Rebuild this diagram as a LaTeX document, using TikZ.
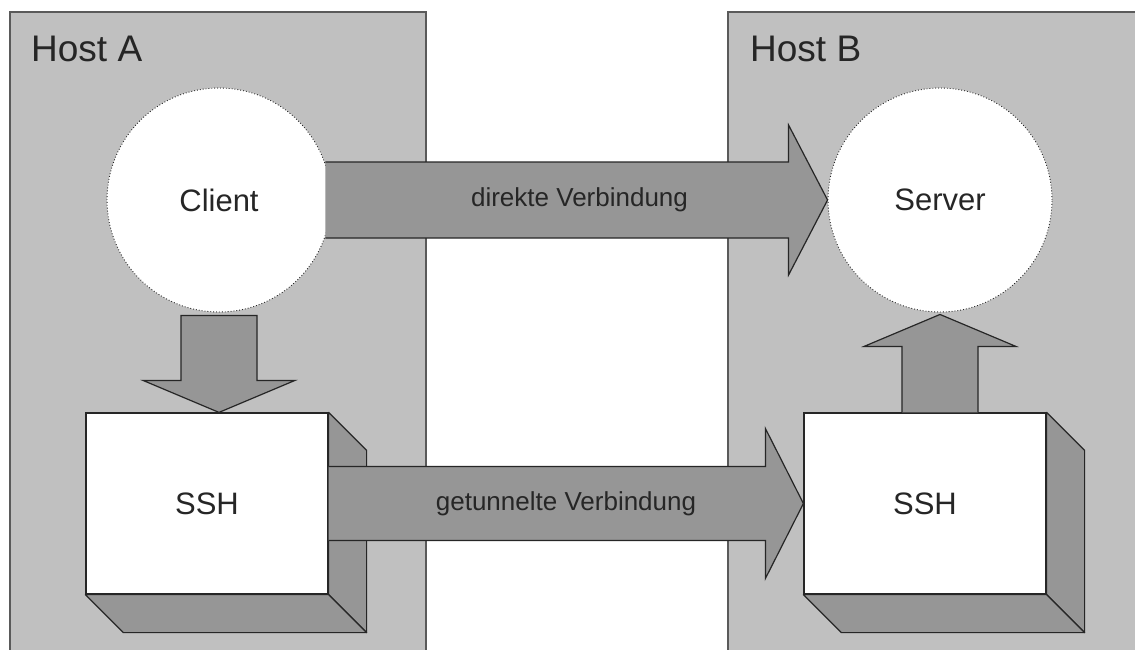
\documentclass[tikz,border=0pt]{standalone}
\usepackage{fontspec}
\setmainfont{Liberation Sans}
\usetikzlibrary{calc}

\definecolor{hostgray}{HTML}{C0C0C0}
\definecolor{arrowgray}{HTML}{969696}
\definecolor{edgegray}{HTML}{5A5A5A}

\tikzset{
  host/.style={fill=hostgray, draw=edgegray, line width=2pt},
  hostlabel/.style={anchor=base west, inner sep=0pt, text=black!85, font=\fontsize{37}{40}\selectfont},
  proc/.style={circle, draw=black!85, dotted, line width=0.9pt, fill=white, minimum size=224pt, inner sep=0pt, text=black!85, font=\fontsize{31}{34}\selectfont},
  sshbox/.style={rectangle, draw=black!85, line width=1.2pt, fill=white, minimum width=242pt, minimum height=181pt, inner sep=0pt, text=black!85, font=\fontsize{31}{34}\selectfont},
  side/.style={fill=arrowgray, draw=black!85, line width=1.2pt, line join=round},
  fat/.style={fill=arrowgray, draw=black!85, line width=1.2pt, line join=miter},
  arrowtext/.style={inner sep=0pt, text=black!85, font=\fontsize{26}{28}\selectfont}
}

\begin{document}
\begin{tikzpicture}[x=1pt, y=-1pt]
        \useasboundingbox (0,0) rectangle (1135,649);
        \clip (0,0) rectangle (1135,649);

        % the two hosts
        \draw[host] (10,12) rectangle (426,690);
        \draw[host] (728,12) rectangle (1170,690);
        \node[hostlabel] (hostA) at (31,61) {Host A};
        \node[hostlabel] (hostB) at (750,61) {Host B};

        % programs
        \node[proc] (client) at (219,200) {Client};
        \node[proc] (server) at (940,200) {Server};
        \node[sshbox] (sshA) at (207,503.5) {SSH};
        \node[sshbox] (sshB) at (925,503.5) {SSH};

        % depth of the ssh boxes
        \foreach \b in {sshA,sshB} {
            \draw[side] (\b.north east) -- ++(38,38) -- ($(\b.south east)+(38,38)$) -- (\b.south east) -- cycle;
            \draw[side] (\b.south west) -- (\b.south east) -- ++(38,38) -- ($(\b.south west)+(38,38)$) -- cycle;
        }

        % direct connection
        \draw[fat] let \p1=(client.east), \p2=(server.west) in
            (\x1-6pt,\y1+38pt) -- (\x2-39pt,\y1+38pt) -- (\x2-39pt,\y1+75pt) -- (\p2)
            -- (\x2-39pt,\y1-75pt) -- (\x2-39pt,\y1-38pt) -- (\x1-6pt,\y1-38pt);
        % tunnelled connection
        \draw[fat] let \p1=(sshA.east), \p2=(sshB.west) in
            (\x1,\y1+37pt) -- (\x2-38pt,\y1+37pt) -- (\x2-38pt,\y1+75pt) -- (\p2)
            -- (\x2-38pt,\y1-75pt) -- (\x2-38pt,\y1-37pt) -- (\x1,\y1-37pt);
        % client down to ssh
        \draw[fat] let \p1=(client.south), \p2=(client.south |- sshA.north) in
            (\x1-38pt,\y1-3pt) -- (\x1-38pt,\y2+32pt) -- (\x1-76pt,\y2+32pt) -- (\p2)
            -- (\x1+76pt,\y2+32pt) -- (\x1+38pt,\y2+32pt) -- (\x1+38pt,\y1-3pt) -- cycle;
        % ssh up to server
        \draw[fat] let \p1=(server.south), \p2=(server.south |- sshB.north) in
            (\x1-38pt,\y2) -- (\x1-38pt,\y1-34pt) -- (\x1-76pt,\y1-34pt) -- (\x1,\y1-2pt)
            -- (\x1+76pt,\y1-34pt) -- (\x1+38pt,\y1-34pt) -- (\x1+38pt,\y2);

        \node[arrowtext] (direct) at ($(client.east)!0.5!(server.west)$) {direkte Verbindung};
        \node[arrowtext] (tunnel) at ($(sshA.east)!0.5!(sshB.west)$) {getunnelte Verbindung};
\end{tikzpicture}
\end{document}
